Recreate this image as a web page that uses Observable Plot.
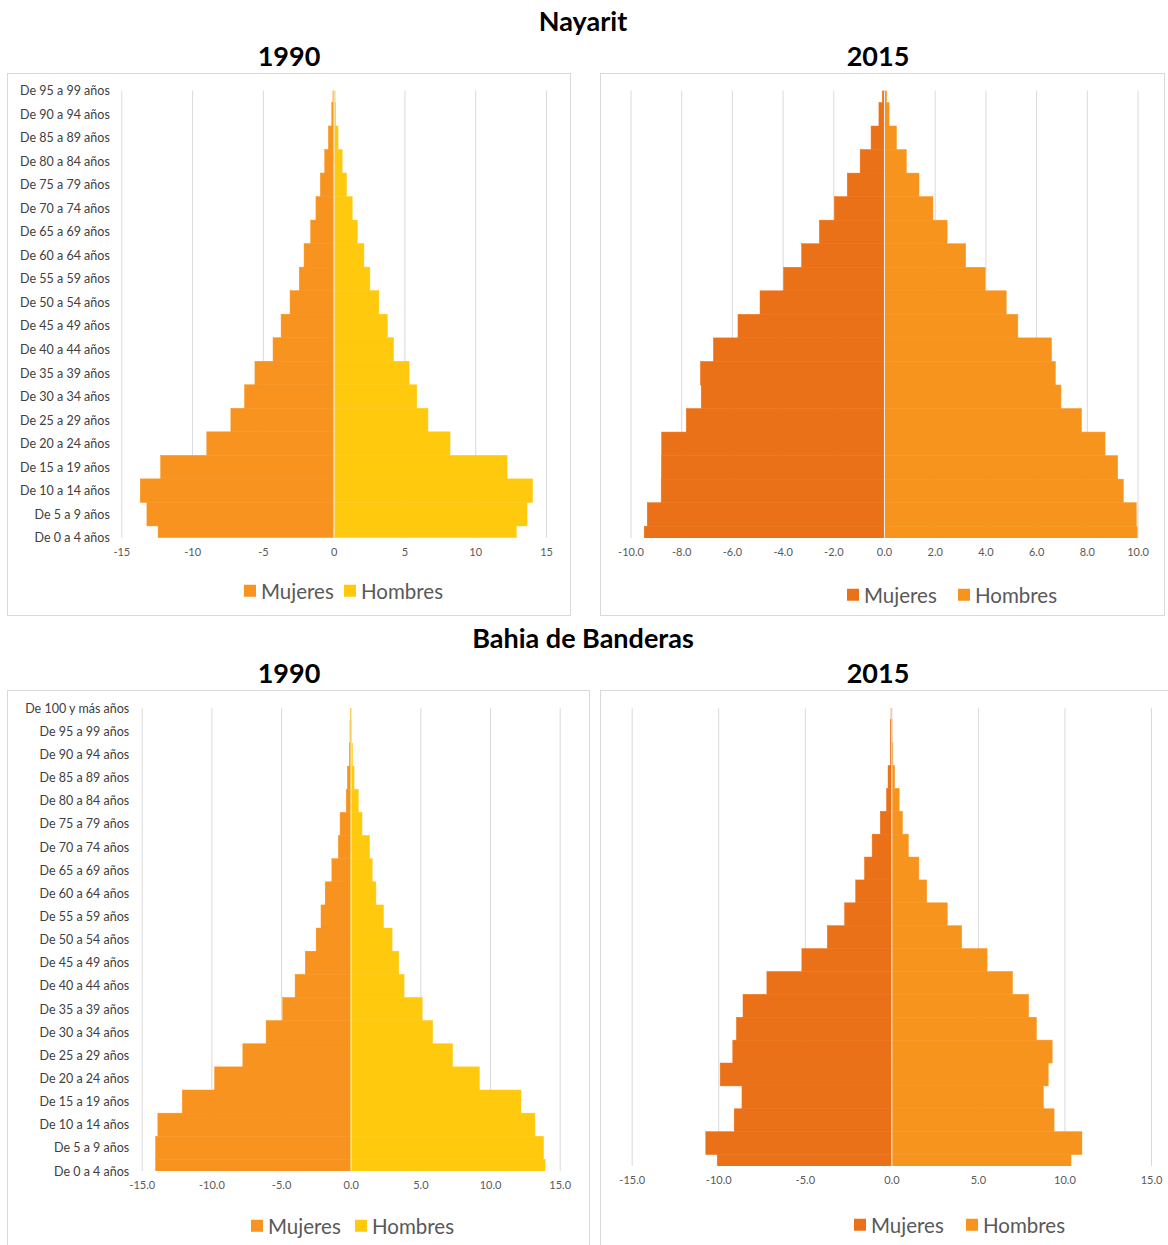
<!DOCTYPE html>
<html>
<head>
<meta charset="utf-8">
<script src="https://cdn.jsdelivr.net/npm/d3@7"></script>
<script src="https://cdn.jsdelivr.net/npm/@observablehq/plot@0.6"></script>
<style>
  html, body { margin: 0; padding: 0; background: #fff; }
  body { width: 1168px; height: 1245px; position: relative; overflow: hidden; font-family: Lato, "Open Sans", sans-serif; }
  .t { position: absolute; transform: translate(-50%, -50%); font-weight: 700; color: #000; white-space: nowrap; line-height: 1; }
  .box { position: absolute; border: 1px solid #d9d9d9; box-sizing: border-box; background: #fff; }
  .pl { position: absolute; }
  .lg { position: absolute; display: flex; align-items: center; font-size: 20.5px; color: #595959; white-space: nowrap; line-height: 1; transform: translateY(-50%); }
  .sq { display: inline-block; width: 12px; height: 12px; margin-right: 5px; }
</style>
</head>
<body>
<script>
// ---- Data ----
const ages = ["De 0 a 4 años","De 5 a 9 años","De 10 a 14 años","De 15 a 19 años","De 20 a 24 años",
  "De 25 a 29 años","De 30 a 34 años","De 35 a 39 años","De 40 a 44 años","De 45 a 49 años",
  "De 50 a 54 años","De 55 a 59 años","De 60 a 64 años","De 65 a 69 años","De 70 a 74 años",
  "De 75 a 79 años","De 80 a 84 años","De 85 a 89 años","De 90 a 94 años","De 95 a 99 años",
  "De 100 y más años"];
const ages20 = ages.slice(0, 20);
const sexes = ["Mujeres", "Hombres"];

// Nayarit (percent, from youngest to oldest)
const nay1990Mujeres = [12.40,13.19,13.66,12.22,8.96,7.26,6.29,5.56,4.28,3.71,3.08,2.43,2.09,1.62,1.25,0.94,0.63,0.37,0.13,0.05];
const nay1990Hombres = [12.90,13.66,14.05,12.25,8.22,6.66,5.87,5.33,4.23,3.79,3.19,2.56,2.14,1.67,1.31,0.91,0.60,0.31,0.13,0.10];
const nay2015Mujeres = [9.46,9.34,8.79,8.78,8.77,7.80,7.21,7.24,6.73,5.76,4.89,3.96,3.25,2.55,1.96,1.45,0.94,0.51,0.20,0.07];
const nay2015Hombres = [10.00,9.95,9.44,9.22,8.72,7.79,6.98,6.76,6.61,5.28,4.82,3.99,3.22,2.49,1.93,1.38,0.88,0.49,0.20,0.10];

// Bahia de Banderas
const bah1990Mujeres = [14.00,14.00,13.84,12.09,9.77,7.74,6.07,4.88,3.99,3.26,2.48,2.13,1.83,1.35,0.89,0.76,0.32,0.24,0.10,0.05,0.02];
const bah1990Hombres = [13.95,13.84,13.22,12.22,9.23,7.31,5.88,5.13,3.83,3.45,2.97,2.35,1.81,1.54,1.35,0.81,0.54,0.24,0.12,0.05,0.02];
const bah2015Mujeres = [10.06,10.72,9.08,8.63,9.89,9.16,8.95,8.57,7.19,5.17,3.70,2.70,2.06,1.55,1.11,0.64,0.28,0.19,0.06,0.06,0.02];
const bah2015Hombres = [10.38,11.01,9.40,8.78,9.06,9.29,8.38,7.93,7.00,5.53,4.06,3.23,2.04,1.59,0.98,0.64,0.45,0.19,0.09,0.04,0.02];

// Tick values
const ticks15int = [-15,-10,-5,0,5,10,15];
const ticks10 = [-10,-8,-6,-4,-2,0,2,4,6,8,10];
const ticks15 = [-15,-10,-5,0,5,10,15];

const colors1990 = ["#F7931E", "#FFC90D"];
const colors2015 = ["#EB7118", "#F7941D"];

// ---- Layout helpers ----
function addText(txt, x, y, size) {
  const d = document.createElement("div");
  d.className = "t"; d.textContent = txt;
  d.style.left = x + "px"; d.style.top = y + "px"; d.style.fontSize = size + "px";
  document.body.appendChild(d);
}
function addBox(l, t, w, h) {
  const d = document.createElement("div");
  d.className = "box";
  Object.assign(d.style, {left: l + "px", top: t + "px", width: w + "px", height: h + "px"});
  document.body.appendChild(d);
}
function addLegend(cols, x1, x2, y) {
  sexes.forEach((s, i) => {
    const d = document.createElement("div");
    d.className = "lg";
    d.style.left = (i === 0 ? x1 : x2) + "px";
    d.style.top = y + "px";
    d.innerHTML = `<span class="sq" style="background:${cols[i]}"></span><span>${s}</span>`;
    document.body.appendChild(d);
  });
}

function panel(cfg) {
  const {ageList, muj, hom, colors, xDomain, xTicks, fmt, showY, W, H, ml, mr, mt, mb, yPad, left, top} = cfg;
  const data = [
    ...ageList.map((a, i) => ({age: a, sexo: "Mujeres", v: -muj[i]})),
    ...ageList.map((a, i) => ({age: a, sexo: "Hombres", v: hom[i]}))
  ];
  const n = ageList.length;
  const bw = (H - mt - mb) / (n - 1);
  const marks = [
    Plot.gridX(xTicks, {stroke: "#d9d9d9", strokeOpacity: 1, strokeWidth: 1}),
    Plot.barX(data, {x1: () => 0, x2: "v", y: "age", fill: "sexo", stroke: "sexo", strokeWidth: 0.5, clip: true}),
    Plot.ruleX([0], {stroke: "#ececec", strokeWidth: 1}),
    Plot.axisX(xTicks, {anchor: "bottom", label: null, tickSize: 0, tickPadding: 10, tickFormat: fmt, fontSize: 11, fill: "#595959"})
  ];
  if (showY) marks.push(Plot.axisY({anchor: "left", label: null, tickSize: 0, tickPadding: yPad, fontSize: 12.5, fill: "#404040"}));
  const svg = Plot.plot({
    width: W, height: H, marginLeft: ml, marginRight: mr, marginTop: mt, marginBottom: mb,
    style: {fontFamily: "Lato, 'Open Sans', sans-serif", background: "transparent", overflow: "visible"},
    x: {domain: xDomain, label: null},
    y: {type: "band", domain: ageList.slice().reverse(), range: [mt - bw / 2, H - mb + bw / 2], padding: 0, round: false, label: null, axis: showY ? undefined : null},
    color: {domain: sexes, range: colors},
    marks
  });
  svg.classList.add("pl");
  svg.style.left = left + "px";
  svg.style.top = top + "px";
  svg.style.position = "absolute";
  document.body.appendChild(svg);
}

// ---- Boxes ----
addBox(7, 73, 564, 543);
addBox(600, 73, 565, 543);
addBox(7, 690, 583, 600);
addBox(600, 690, 600, 600);

// ---- Titles ----
addText("Nayarit", 583, 20, 27);
addText("1990", 289, 55, 27);
addText("2015", 878, 55, 27);
addText("Bahia de Banderas", 583, 637, 27);
addText("1990", 289, 672, 27);
addText("2015", 878, 672, 27);

// ---- Panels ----
panel({ageList: ages20, muj: nay1990Mujeres, hom: nay1990Hombres, colors: colors1990,
  xDomain: [-15, 15], xTicks: ticks15int, fmt: d => String(d), showY: true,
  W: 563, H: 500, ml: 114.3, mr: 24, mt: 17.7, mb: 35.3, yPad: 12, left: 7, top: 73});
panel({ageList: ages20, muj: nay2015Mujeres, hom: nay2015Hombres, colors: colors2015,
  xDomain: [-10, 10], xTicks: ticks10, fmt: d => d.toFixed(1), showY: false,
  W: 563, H: 500, ml: 30.5, mr: 25.5, mt: 17.7, mb: 35, yPad: 12, left: 600, top: 73});
panel({ageList: ages, muj: bah1990Mujeres, hom: bah1990Hombres, colors: colors1990,
  xDomain: [-15, 15], xTicks: ticks15, fmt: d => d.toFixed(1), showY: true,
  W: 582, H: 520, ml: 134.7, mr: 29.3, mt: 18.3, mb: 39, yPad: 13, left: 7, top: 690});
panel({ageList: ages, muj: bah2015Mujeres, hom: bah2015Hombres, colors: colors2015,
  xDomain: [-15, 15], xTicks: ticks15, fmt: d => d.toFixed(1), showY: false,
  W: 568, H: 520, ml: 31.7, mr: 17, mt: 18.3, mb: 44, yPad: 12, left: 600, top: 690});

// ---- Legends ----
addLegend(colors1990, 244, 344, 591);
addLegend(colors2015, 847, 958, 595);
addLegend(colors1990, 251, 355, 1226);
addLegend(colors2015, 854, 966, 1225);
</script>
</body>
</html>
